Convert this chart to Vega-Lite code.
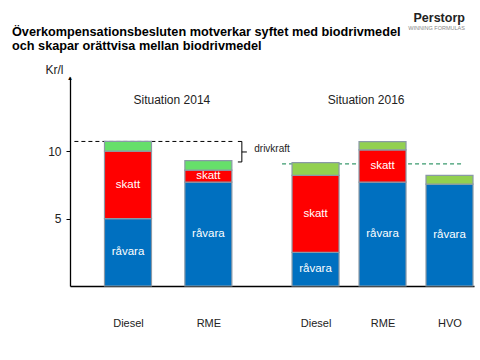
{
  "$schema": "https://vega.github.io/schema/vega-lite/v6.json",
  "width": 404,
  "height": 209,
  "autosize": {"type": "none"},
  "padding": {"left": 70, "top": 77, "right": 6, "bottom": 74},
  "background": "white",
  "title": {
    "text": ["Överkompensationsbesluten motverkar syftet med biodrivmedel", "och skapar orättvisa mellan biodrivmedel"],
    "anchor": "start",
    "frame": "group",
    "dx": -58,
    "dy": 40,
    "font": "Liberation Sans",
    "fontSize": 12.7,
    "fontWeight": "bold",
    "color": "#000000",
    "lineHeight": 14,
    "offset": 0
  },
  "config": {
    "view": {"stroke": null},
    "font": "Liberation Sans",
    "axisY": {
      "titleAngle": 0,
      "titleX": -25,
      "titleY": -8,
      "titleAlign": "left",
      "titleBaseline": "middle",
      "titleFontSize": 12,
      "titleFontWeight": "normal",
      "titleColor": "#222222",
      "labelFontSize": 12,
      "labelColor": "#222222",
      "labelPadding": 5,
      "tickSize": 4,
      "tickColor": "#000000",
      "domainColor": "#000000",
      "domainWidth": 1.3,
      "grid": false
    },
    "axisX": {
      "ticks": false,
      "tickSize": 0,
      "labelPadding": 31,
      "labelFontSize": 11,
      "labelColor": "#222222",
      "labelAngle": 0,
      "domainColor": "#000000",
      "domainWidth": 1.3,
      "grid": false,
      "title": null
    }
  },
  "datasets": {
    "bars": [
      {"at": "Diesel 2014", "kind": "råvara", "value": 5},
      {"at": "Diesel 2014", "kind": "skatt", "value": 5},
      {"at": "Diesel 2014", "kind": "överskott 2014", "value": 0.72},
      {"at": "RME 2014", "kind": "råvara", "value": 7.7},
      {"at": "RME 2014", "kind": "skatt", "value": 0.9},
      {"at": "RME 2014", "kind": "överskott 2014", "value": 0.7},
      {"at": "Diesel 2016", "kind": "råvara", "value": 2.5},
      {"at": "Diesel 2016", "kind": "skatt", "value": 5.7},
      {"at": "Diesel 2016", "kind": "överskott 2016", "value": 0.95},
      {"at": "RME 2016", "kind": "råvara", "value": 7.7},
      {"at": "RME 2016", "kind": "skatt", "value": 2.4},
      {"at": "RME 2016", "kind": "överskott 2016", "value": 0.6},
      {"at": "HVO 2016", "kind": "råvara", "value": 7.55},
      {"at": "HVO 2016", "kind": "överskott 2016", "value": 0.65}
    ],
    "levels": [
      {"at": "L", "to": "dashEnd", "level": 10.72, "series": "2014"},
      {"at": "greenStart", "to": "greenEnd", "level": 9.06, "series": "2016"}
    ],
    "notes": [
      {"at": "sit14", "level": 13.8, "text": "Situation 2014", "kind": "situation"},
      {"at": "sit16", "level": 13.8, "text": "Situation 2016", "kind": "situation"},
      {"at": "drivkraft", "level": 10.14, "text": "drivkraft", "kind": "annotation"},
      {"at": "greenEnd", "level": 19.85, "text": "Perstorp", "kind": "logo"},
      {"at": "greenEnd", "level": 19.1, "text": "WINNING FORMULAS", "kind": "tagline"}
    ],
    "brace": [
      {"at": "brace", "top": 10.72, "bottom": 9.2}
    ],
    "hooks": [
      {"at": "brace", "level": 10.72, "side": "left"},
      {"at": "brace", "level": 9.2, "side": "left"},
      {"at": "brace", "level": 9.94, "side": "right"}
    ]
  },
  "encoding": {
    "x": {
      "field": "at",
      "type": "nominal",
      "scale": {
        "type": "point",
        "padding": 0.657,
        "domain": ["L","_-7","_-6","_-5","_-4","_-3","_-2","_-1","Diesel 2014","_1","_2","_3","_4","_5","_6","sit14","_8","_9","_10","_11","RME 2014","_13","_14","_15","dashEnd","brace","_18","drivkraft","_20","_21","_22","greenStart","_24","_25","_26","_27","Diesel 2016","_29","_30","_31","_32","_33","_34","_35","sit16","_37","RME 2016","_39","_40","_41","_42","_43","_44","_45","_46","_47","HVO 2016","_49","greenEnd","_51"]
      },
      "axis": {
        "values": ["Diesel 2014", "RME 2014", "Diesel 2016", "RME 2016", "HVO 2016"],
        "labelExpr": "split(datum.value, ' ')[0]"
      }
    }
  },
  "layer": [
    {
      "data": {"name": "levels"},
      "transform": [{"filter": "datum.series == '2016'"}],
      "mark": {"type": "rule", "stroke": "#3a9a6e", "strokeWidth": 1.2, "strokeDash": [4, 3]},
      "encoding": {
        "x2": {"field": "to"},
        "y": {"field": "level", "type": "quantitative", "title": "Kr/l", "scale": {"domain": [0, 15.5], "nice": false}}
      }
    },
    {
      "data": {"name": "levels"},
      "transform": [{"filter": "datum.series == '2014'"}],
      "mark": {"type": "rule", "stroke": "#000000", "strokeWidth": 1, "strokeDash": [4, 3]},
      "encoding": {
        "x2": {"field": "to"},
        "y": {"field": "level", "type": "quantitative", "title": "Kr/l", "scale": {"domain": [0, 15.5], "nice": false}}
      }
    },
    {
      "data": {"name": "bars"},
      "mark": {"type": "bar", "width": 47, "stroke": "#8a99a6", "strokeWidth": 1.2},
      "encoding": {
        "y": {
          "field": "value",
          "type": "quantitative",
          "stack": "zero",
          "title": "Kr/l",
          "scale": {"domain": [0, 15.5], "nice": false},
          "axis": {"values": [5, 10]}
        },
        "color": {
          "field": "kind",
          "type": "nominal",
          "scale": {
            "domain": ["råvara", "skatt", "överskott 2014", "överskott 2016"],
            "range": ["#0070c0", "#ff0000", "#66df6a", "#92d050"]
          },
          "legend": null
        },
        "order": {"field": "kind", "sort": "ascending"}
      }
    },
    {
      "data": {"name": "bars"},
      "transform": [
        {"stack": "value", "groupby": ["at"], "sort": [{"field": "kind", "order": "ascending"}], "as": ["y0", "y1"]},
        {"filter": "datum.kind == 'råvara' || datum.kind == 'skatt'"},
        {"fold": ["y0", "y1"], "as": ["edge", "yv"]},
        {"aggregate": [{"op": "mean", "field": "yv", "as": "mid"}], "groupby": ["at", "kind"]}
      ],
      "mark": {"type": "text", "color": "#ffffff", "fontSize": 11.5, "baseline": "middle", "align": "center"},
      "encoding": {
        "y": {"field": "mid", "type": "quantitative", "title": "Kr/l", "scale": {"domain": [0, 15.5], "nice": false}},
        "text": {"field": "kind"}
      }
    },
    {
      "data": {"name": "brace"},
      "mark": {"type": "rule", "stroke": "#000000", "strokeWidth": 1},
      "encoding": {
        "y": {"field": "top", "type": "quantitative", "title": "Kr/l", "scale": {"domain": [0, 15.5], "nice": false}},
        "y2": {"field": "bottom"}
      }
    },
    {
      "data": {"name": "hooks"},
      "transform": [{"filter": "datum.side == 'left'"}],
      "mark": {"type": "tick", "orient": "horizontal", "size": 4, "thickness": 1, "color": "#000000", "xOffset": -2, "opacity": 1},
      "encoding": {
        "y": {"field": "level", "type": "quantitative", "title": "Kr/l", "scale": {"domain": [0, 15.5], "nice": false}}
      }
    },
    {
      "data": {"name": "hooks"},
      "transform": [{"filter": "datum.side == 'right'"}],
      "mark": {"type": "tick", "orient": "horizontal", "size": 5, "thickness": 1, "color": "#000000", "xOffset": 2.5, "opacity": 1},
      "encoding": {
        "y": {"field": "level", "type": "quantitative", "title": "Kr/l", "scale": {"domain": [0, 15.5], "nice": false}}
      }
    },
    {
      "data": {"name": "notes"},
      "transform": [{"filter": "datum.kind == 'situation'"}],
      "mark": {"type": "text", "fontSize": 12, "color": "#222222", "align": "center", "baseline": "middle", "dx": -3},
      "encoding": {
        "y": {"field": "level", "type": "quantitative", "title": "Kr/l", "scale": {"domain": [0, 15.5], "nice": false}},
        "text": {"field": "text"}
      }
    },
    {
      "data": {"name": "notes"},
      "transform": [{"filter": "datum.kind == 'annotation'"}],
      "mark": {"type": "text", "fontSize": 10, "color": "#222222", "align": "left", "baseline": "middle", "dx": -1},
      "encoding": {
        "y": {"field": "level", "type": "quantitative", "title": "Kr/l", "scale": {"domain": [0, 15.5], "nice": false}},
        "text": {"field": "text"}
      }
    },
    {
      "data": {"name": "notes"},
      "transform": [{"filter": "datum.kind == 'logo'"}],
      "mark": {"type": "text", "fontSize": 12.5, "fontWeight": "bold", "color": "#222222", "align": "right", "baseline": "middle", "dx": 2},
      "encoding": {
        "y": {"field": "level", "type": "quantitative", "title": "Kr/l", "scale": {"domain": [0, 15.5], "nice": false}},
        "text": {"field": "text"}
      }
    },
    {
      "data": {"name": "notes"},
      "transform": [{"filter": "datum.kind == 'tagline'"}],
      "mark": {"type": "text", "fontSize": 5.5, "color": "#888888", "align": "right", "baseline": "middle", "dx": 2},
      "encoding": {
        "y": {"field": "level", "type": "quantitative", "title": "Kr/l", "scale": {"domain": [0, 15.5], "nice": false}},
        "text": {"field": "text"}
      }
    },
    {
      "data": {"values": [{"at": "L", "level": 15.5}]},
      "mark": {"type": "text", "text": "▲", "fontSize": 6, "color": "#000000", "align": "center", "baseline": "top", "dx": -4.4, "dy": -2},
      "encoding": {
        "y": {"field": "level", "type": "quantitative", "title": "Kr/l", "scale": {"domain": [0, 15.5], "nice": false}}
      }
    }
  ]
}
